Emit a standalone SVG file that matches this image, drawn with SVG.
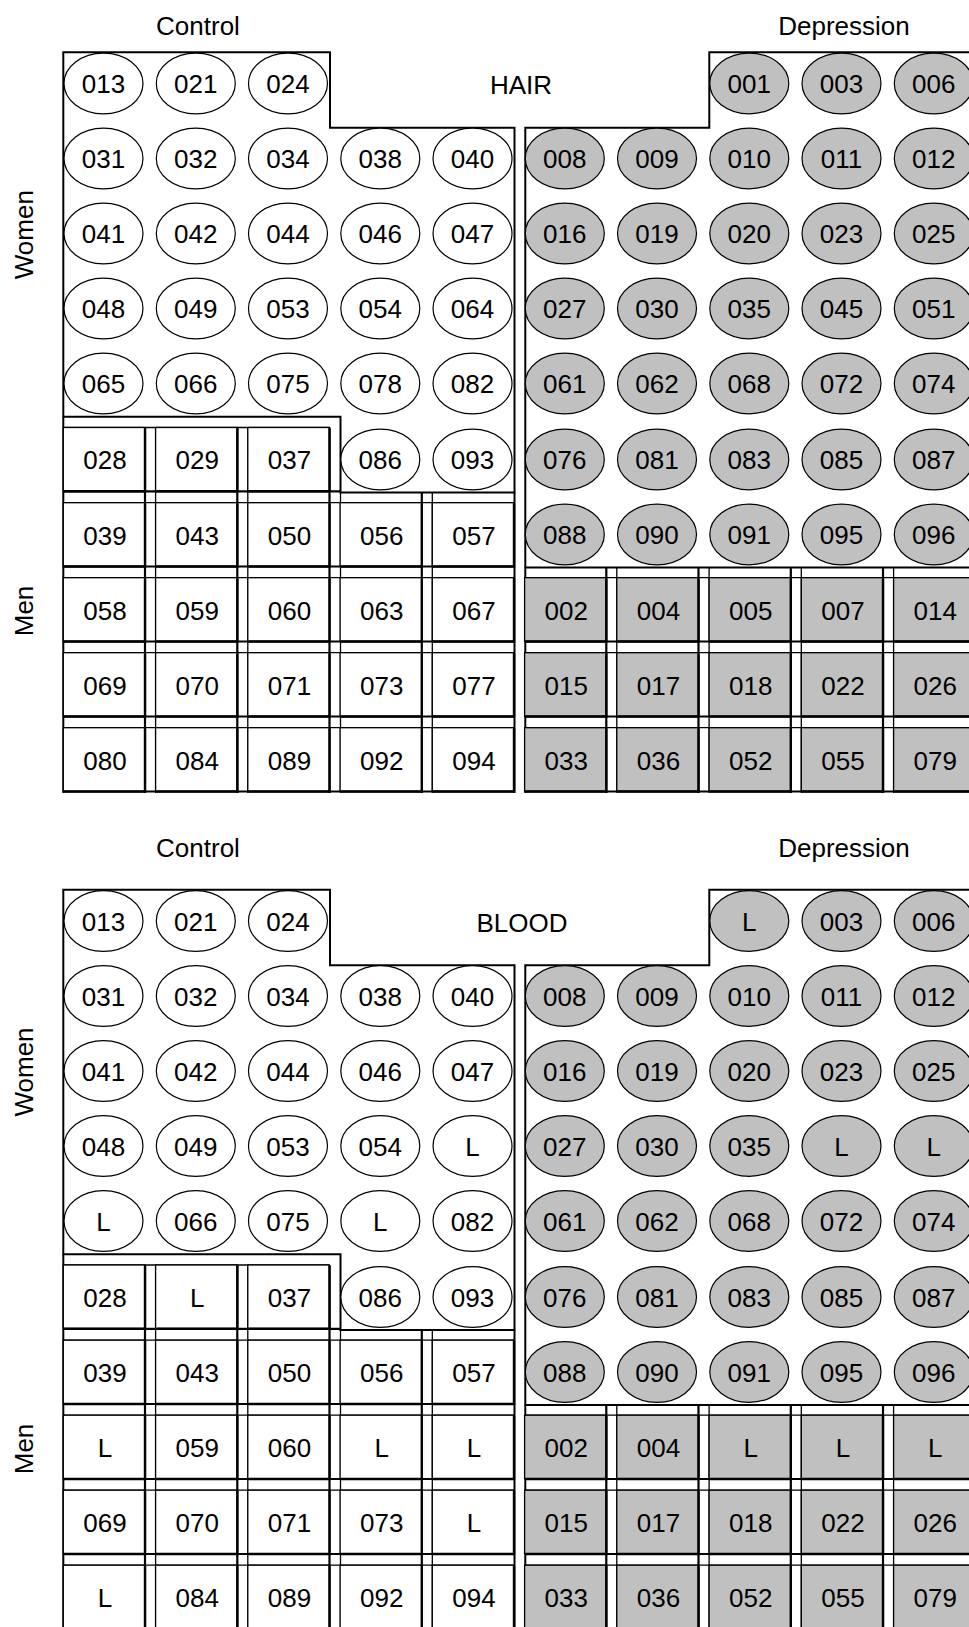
<svg xmlns="http://www.w3.org/2000/svg" width="969" height="1627" viewBox="0 0 969 1627">
<style>
text{font-family:"Liberation Sans",Arial,Helvetica,sans-serif;font-size:26px;text-anchor:middle;fill:#000}
.bd{fill:none;stroke:#000;stroke-width:2}
.lt{fill:none;stroke:#000;stroke-width:1.3}
.lk{fill:none;stroke:#000;stroke-width:2.2}
</style>
<defs>
<ellipse id="ovW" rx="39.5" ry="30.3" fill="#fff" stroke="#000" stroke-width="1.2"/>
<ellipse id="ovG" rx="39.5" ry="30.3" fill="#c0c0c0" stroke="#000" stroke-width="1.2"/>
<g id="bxW"><rect x="-40.2" y="-32.3" width="81.5" height="63.5" fill="#fff" stroke="#000" stroke-width="1.3"/><path d="M-39.5,31.5H41.5V-31.5" fill="none" stroke="#000" stroke-width="2.4"/></g>
<g id="bxG"><rect x="-40.2" y="-32.3" width="81.5" height="63.5" fill="#c0c0c0" stroke="#000" stroke-width="1.3"/><path d="M-39.5,31.5H41.5V-31.5" fill="none" stroke="#000" stroke-width="2.4"/></g>
<g id="frame">
<path class="bd" d="M63.3,52.3H330V127.7H514.5V492.5H340.5V416.8H63.3Z"/>
<path class="bd" d="M63.3,416.8V793"/>
<path class="bd" d="M514.5,492.5V793"/>
<path class="bd" d="M975,52.3H709.3V127.7H525.3V567.5H975"/>
<path class="bd" d="M525.3,567.5V793"/>
<path class="lt" d="M155.6,427.5V793M247.8,427.5V793M340.5,492.5V793M432.3,492.5V793M63.3,427.5H329.5M63.3,502.7H514M63.3,577.7H514M63.3,652.7H514M63.3,727.7H514M616.8,567.5V793M709.1,567.5V793M801.3,567.5V793M893.6,567.5V793M525.3,577.7H969M525.3,652.7H969M525.3,727.7H969"/>
<path class="lk" d="M145,427.5V793M237.3,427.5V793M329.5,427.5V793M421.8,492.5V793M63.3,491.3H340.5M63.3,566.5H514M63.3,641.5H514M63.3,716.5H514M63.3,791.5H514M606.3,567.5V793M698.5,567.5V793M790.8,567.5V793M883,567.5V793M525.3,641.5H969M525.3,716.5H969M525.3,791.5H969"/>
</g>
</defs>
<rect width="969" height="1627" fill="#fff"/>

<g id="hair">
<text x="198" y="35">Control</text>
<text x="844" y="35">Depression</text>
<text x="521" y="94">HAIR</text>
<text transform="translate(32.5,234.7) rotate(-90)">Women</text>
<text transform="translate(32.5,611) rotate(-90)">Men</text>

<g id="hair-borders"><use href="#frame"/></g>

<g id="hair-nodes">
<g id="h013" transform="translate(103.5,83.5)"><use href="#ovW"/><text y="9.5">013</text></g>
<g id="h021" transform="translate(195.8,83.5)"><use href="#ovW"/><text y="9.5">021</text></g>
<g id="h024" transform="translate(288,83.5)"><use href="#ovW"/><text y="9.5">024</text></g>
<g id="h031" transform="translate(103.5,158.5)"><use href="#ovW"/><text y="9.5">031</text></g>
<g id="h032" transform="translate(195.8,158.5)"><use href="#ovW"/><text y="9.5">032</text></g>
<g id="h034" transform="translate(288,158.5)"><use href="#ovW"/><text y="9.5">034</text></g>
<g id="h038" transform="translate(380.3,158.5)"><use href="#ovW"/><text y="9.5">038</text></g>
<g id="h040" transform="translate(472.5,158.5)"><use href="#ovW"/><text y="9.5">040</text></g>
<g id="h041" transform="translate(103.5,233.5)"><use href="#ovW"/><text y="9.5">041</text></g>
<g id="h042" transform="translate(195.8,233.5)"><use href="#ovW"/><text y="9.5">042</text></g>
<g id="h044" transform="translate(288,233.5)"><use href="#ovW"/><text y="9.5">044</text></g>
<g id="h046" transform="translate(380.3,233.5)"><use href="#ovW"/><text y="9.5">046</text></g>
<g id="h047" transform="translate(472.5,233.5)"><use href="#ovW"/><text y="9.5">047</text></g>
<g id="h048" transform="translate(103.5,308.5)"><use href="#ovW"/><text y="9.5">048</text></g>
<g id="h049" transform="translate(195.8,308.5)"><use href="#ovW"/><text y="9.5">049</text></g>
<g id="h053" transform="translate(288,308.5)"><use href="#ovW"/><text y="9.5">053</text></g>
<g id="h054" transform="translate(380.3,308.5)"><use href="#ovW"/><text y="9.5">054</text></g>
<g id="h064" transform="translate(472.5,308.5)"><use href="#ovW"/><text y="9.5">064</text></g>
<g id="h065" transform="translate(103.5,383.5)"><use href="#ovW"/><text y="9.5">065</text></g>
<g id="h066" transform="translate(195.8,383.5)"><use href="#ovW"/><text y="9.5">066</text></g>
<g id="h075" transform="translate(288,383.5)"><use href="#ovW"/><text y="9.5">075</text></g>
<g id="h078" transform="translate(380.3,383.5)"><use href="#ovW"/><text y="9.5">078</text></g>
<g id="h082" transform="translate(472.5,383.5)"><use href="#ovW"/><text y="9.5">082</text></g>
<g id="h086" transform="translate(380.3,459.5)"><use href="#ovW"/><text y="9.5">086</text></g>
<g id="h093" transform="translate(472.5,459.5)"><use href="#ovW"/><text y="9.5">093</text></g>

<g id="h028" transform="translate(103.5,459.8)"><use href="#bxW"/><text x="1.5" y="9.5">028</text></g>
<g id="h029" transform="translate(195.8,459.8)"><use href="#bxW"/><text x="1.5" y="9.5">029</text></g>
<g id="h037" transform="translate(288,459.8)"><use href="#bxW"/><text x="1.5" y="9.5">037</text></g>
<g id="h039" transform="translate(103.5,535)"><use href="#bxW"/><text x="1.5" y="9.5">039</text></g>
<g id="h043" transform="translate(195.8,535)"><use href="#bxW"/><text x="1.5" y="9.5">043</text></g>
<g id="h050" transform="translate(288,535)"><use href="#bxW"/><text x="1.5" y="9.5">050</text></g>
<g id="h056" transform="translate(380.3,535)"><use href="#bxW"/><text x="1.5" y="9.5">056</text></g>
<g id="h057" transform="translate(472.5,535)"><use href="#bxW"/><text x="1.5" y="9.5">057</text></g>
<g id="h058" transform="translate(103.5,610)"><use href="#bxW"/><text x="1.5" y="9.5">058</text></g>
<g id="h059" transform="translate(195.8,610)"><use href="#bxW"/><text x="1.5" y="9.5">059</text></g>
<g id="h060" transform="translate(288,610)"><use href="#bxW"/><text x="1.5" y="9.5">060</text></g>
<g id="h063" transform="translate(380.3,610)"><use href="#bxW"/><text x="1.5" y="9.5">063</text></g>
<g id="h067" transform="translate(472.5,610)"><use href="#bxW"/><text x="1.5" y="9.5">067</text></g>
<g id="h069" transform="translate(103.5,685)"><use href="#bxW"/><text x="1.5" y="9.5">069</text></g>
<g id="h070" transform="translate(195.8,685)"><use href="#bxW"/><text x="1.5" y="9.5">070</text></g>
<g id="h071" transform="translate(288,685)"><use href="#bxW"/><text x="1.5" y="9.5">071</text></g>
<g id="h073" transform="translate(380.3,685)"><use href="#bxW"/><text x="1.5" y="9.5">073</text></g>
<g id="h077" transform="translate(472.5,685)"><use href="#bxW"/><text x="1.5" y="9.5">077</text></g>
<g id="h080" transform="translate(103.5,760)"><use href="#bxW"/><text x="1.5" y="9.5">080</text></g>
<g id="h084" transform="translate(195.8,760)"><use href="#bxW"/><text x="1.5" y="9.5">084</text></g>
<g id="h089" transform="translate(288,760)"><use href="#bxW"/><text x="1.5" y="9.5">089</text></g>
<g id="h092" transform="translate(380.3,760)"><use href="#bxW"/><text x="1.5" y="9.5">092</text></g>
<g id="h094" transform="translate(472.5,760)"><use href="#bxW"/><text x="1.5" y="9.5">094</text></g>

<g id="h001" transform="translate(749.3,83.5)"><use href="#ovG"/><text y="9.5">001</text></g>
<g id="h003" transform="translate(841.5,83.5)"><use href="#ovG"/><text y="9.5">003</text></g>
<g id="h006" transform="translate(933.8,83.5)"><use href="#ovG"/><text y="9.5">006</text></g>
<g id="h008" transform="translate(564.8,158.5)"><use href="#ovG"/><text y="9.5">008</text></g>
<g id="h009" transform="translate(657,158.5)"><use href="#ovG"/><text y="9.5">009</text></g>
<g id="h010" transform="translate(749.3,158.5)"><use href="#ovG"/><text y="9.5">010</text></g>
<g id="h011" transform="translate(841.5,158.5)"><use href="#ovG"/><text y="9.5">011</text></g>
<g id="h012" transform="translate(933.8,158.5)"><use href="#ovG"/><text y="9.5">012</text></g>
<g id="h016" transform="translate(564.8,233.5)"><use href="#ovG"/><text y="9.5">016</text></g>
<g id="h019" transform="translate(657,233.5)"><use href="#ovG"/><text y="9.5">019</text></g>
<g id="h020" transform="translate(749.3,233.5)"><use href="#ovG"/><text y="9.5">020</text></g>
<g id="h023" transform="translate(841.5,233.5)"><use href="#ovG"/><text y="9.5">023</text></g>
<g id="h025" transform="translate(933.8,233.5)"><use href="#ovG"/><text y="9.5">025</text></g>
<g id="h027" transform="translate(564.8,308.5)"><use href="#ovG"/><text y="9.5">027</text></g>
<g id="h030" transform="translate(657,308.5)"><use href="#ovG"/><text y="9.5">030</text></g>
<g id="h035" transform="translate(749.3,308.5)"><use href="#ovG"/><text y="9.5">035</text></g>
<g id="h045" transform="translate(841.5,308.5)"><use href="#ovG"/><text y="9.5">045</text></g>
<g id="h051" transform="translate(933.8,308.5)"><use href="#ovG"/><text y="9.5">051</text></g>
<g id="h061" transform="translate(564.8,383.5)"><use href="#ovG"/><text y="9.5">061</text></g>
<g id="h062" transform="translate(657,383.5)"><use href="#ovG"/><text y="9.5">062</text></g>
<g id="h068" transform="translate(749.3,383.5)"><use href="#ovG"/><text y="9.5">068</text></g>
<g id="h072" transform="translate(841.5,383.5)"><use href="#ovG"/><text y="9.5">072</text></g>
<g id="h074" transform="translate(933.8,383.5)"><use href="#ovG"/><text y="9.5">074</text></g>
<g id="h076" transform="translate(564.8,459.5)"><use href="#ovG"/><text y="9.5">076</text></g>
<g id="h081" transform="translate(657,459.5)"><use href="#ovG"/><text y="9.5">081</text></g>
<g id="h083" transform="translate(749.3,459.5)"><use href="#ovG"/><text y="9.5">083</text></g>
<g id="h085" transform="translate(841.5,459.5)"><use href="#ovG"/><text y="9.5">085</text></g>
<g id="h087" transform="translate(933.8,459.5)"><use href="#ovG"/><text y="9.5">087</text></g>
<g id="h088" transform="translate(564.8,534.5)"><use href="#ovG"/><text y="9.5">088</text></g>
<g id="h090" transform="translate(657,534.5)"><use href="#ovG"/><text y="9.5">090</text></g>
<g id="h091" transform="translate(749.3,534.5)"><use href="#ovG"/><text y="9.5">091</text></g>
<g id="h095" transform="translate(841.5,534.5)"><use href="#ovG"/><text y="9.5">095</text></g>
<g id="h096" transform="translate(933.8,534.5)"><use href="#ovG"/><text y="9.5">096</text></g>

<g id="h002" transform="translate(564.8,610)"><use href="#bxG"/><text x="1.5" y="9.5">002</text></g>
<g id="h004" transform="translate(657,610)"><use href="#bxG"/><text x="1.5" y="9.5">004</text></g>
<g id="h005" transform="translate(749.3,610)"><use href="#bxG"/><text x="1.5" y="9.5">005</text></g>
<g id="h007" transform="translate(841.5,610)"><use href="#bxG"/><text x="1.5" y="9.5">007</text></g>
<g id="h014" transform="translate(933.8,610)"><use href="#bxG"/><text x="1.5" y="9.5">014</text></g>
<g id="h015" transform="translate(564.8,685)"><use href="#bxG"/><text x="1.5" y="9.5">015</text></g>
<g id="h017" transform="translate(657,685)"><use href="#bxG"/><text x="1.5" y="9.5">017</text></g>
<g id="h018" transform="translate(749.3,685)"><use href="#bxG"/><text x="1.5" y="9.5">018</text></g>
<g id="h022" transform="translate(841.5,685)"><use href="#bxG"/><text x="1.5" y="9.5">022</text></g>
<g id="h026" transform="translate(933.8,685)"><use href="#bxG"/><text x="1.5" y="9.5">026</text></g>
<g id="h033" transform="translate(564.8,760)"><use href="#bxG"/><text x="1.5" y="9.5">033</text></g>
<g id="h036" transform="translate(657,760)"><use href="#bxG"/><text x="1.5" y="9.5">036</text></g>
<g id="h052" transform="translate(749.3,760)"><use href="#bxG"/><text x="1.5" y="9.5">052</text></g>
<g id="h055" transform="translate(841.5,760)"><use href="#bxG"/><text x="1.5" y="9.5">055</text></g>
<g id="h079" transform="translate(933.8,760)"><use href="#bxG"/><text x="1.5" y="9.5">079</text></g>
</g>
</g>

<g id="blood">
<text x="198" y="856.5">Control</text>
<text x="844" y="856.5">Depression</text>
<text transform="translate(32.5,1072) rotate(-90)">Women</text>
<text transform="translate(32.5,1449) rotate(-90)">Men</text>
<g transform="translate(0,837.5)">
<text x="522" y="94">BLOOD</text>
<g id="blood-borders"><use href="#frame"/></g>
<g id="blood-nodes">
<g id="b013" transform="translate(103.5,83.5)"><use href="#ovW"/><text y="9.5">013</text></g>
<g id="b021" transform="translate(195.8,83.5)"><use href="#ovW"/><text y="9.5">021</text></g>
<g id="b024" transform="translate(288,83.5)"><use href="#ovW"/><text y="9.5">024</text></g>
<g id="b031" transform="translate(103.5,158.5)"><use href="#ovW"/><text y="9.5">031</text></g>
<g id="b032" transform="translate(195.8,158.5)"><use href="#ovW"/><text y="9.5">032</text></g>
<g id="b034" transform="translate(288,158.5)"><use href="#ovW"/><text y="9.5">034</text></g>
<g id="b038" transform="translate(380.3,158.5)"><use href="#ovW"/><text y="9.5">038</text></g>
<g id="b040" transform="translate(472.5,158.5)"><use href="#ovW"/><text y="9.5">040</text></g>
<g id="b041" transform="translate(103.5,233.5)"><use href="#ovW"/><text y="9.5">041</text></g>
<g id="b042" transform="translate(195.8,233.5)"><use href="#ovW"/><text y="9.5">042</text></g>
<g id="b044" transform="translate(288,233.5)"><use href="#ovW"/><text y="9.5">044</text></g>
<g id="b046" transform="translate(380.3,233.5)"><use href="#ovW"/><text y="9.5">046</text></g>
<g id="b047" transform="translate(472.5,233.5)"><use href="#ovW"/><text y="9.5">047</text></g>
<g id="b048" transform="translate(103.5,308.5)"><use href="#ovW"/><text y="9.5">048</text></g>
<g id="b049" transform="translate(195.8,308.5)"><use href="#ovW"/><text y="9.5">049</text></g>
<g id="b053" transform="translate(288,308.5)"><use href="#ovW"/><text y="9.5">053</text></g>
<g id="b054" transform="translate(380.3,308.5)"><use href="#ovW"/><text y="9.5">054</text></g>
<g id="b-r4c5" transform="translate(472.5,308.5)"><use href="#ovW"/><text y="9.5">L</text></g>
<g id="b-r5c1" transform="translate(103.5,383.5)"><use href="#ovW"/><text y="9.5">L</text></g>
<g id="b066" transform="translate(195.8,383.5)"><use href="#ovW"/><text y="9.5">066</text></g>
<g id="b075" transform="translate(288,383.5)"><use href="#ovW"/><text y="9.5">075</text></g>
<g id="b-r5c4" transform="translate(380.3,383.5)"><use href="#ovW"/><text y="9.5">L</text></g>
<g id="b082" transform="translate(472.5,383.5)"><use href="#ovW"/><text y="9.5">082</text></g>
<g id="b086" transform="translate(380.3,459.5)"><use href="#ovW"/><text y="9.5">086</text></g>
<g id="b093" transform="translate(472.5,459.5)"><use href="#ovW"/><text y="9.5">093</text></g>

<g id="b028" transform="translate(103.5,459.8)"><use href="#bxW"/><text x="1.5" y="9.5">028</text></g>
<g id="b-r6c2" transform="translate(195.8,459.8)"><use href="#bxW"/><text x="1.5" y="9.5">L</text></g>
<g id="b037" transform="translate(288,459.8)"><use href="#bxW"/><text x="1.5" y="9.5">037</text></g>
<g id="b039" transform="translate(103.5,535)"><use href="#bxW"/><text x="1.5" y="9.5">039</text></g>
<g id="b043" transform="translate(195.8,535)"><use href="#bxW"/><text x="1.5" y="9.5">043</text></g>
<g id="b050" transform="translate(288,535)"><use href="#bxW"/><text x="1.5" y="9.5">050</text></g>
<g id="b056" transform="translate(380.3,535)"><use href="#bxW"/><text x="1.5" y="9.5">056</text></g>
<g id="b057" transform="translate(472.5,535)"><use href="#bxW"/><text x="1.5" y="9.5">057</text></g>
<g id="b-r8c1" transform="translate(103.5,610)"><use href="#bxW"/><text x="1.5" y="9.5">L</text></g>
<g id="b059" transform="translate(195.8,610)"><use href="#bxW"/><text x="1.5" y="9.5">059</text></g>
<g id="b060" transform="translate(288,610)"><use href="#bxW"/><text x="1.5" y="9.5">060</text></g>
<g id="b-r8c4" transform="translate(380.3,610)"><use href="#bxW"/><text x="1.5" y="9.5">L</text></g>
<g id="b-r8c5" transform="translate(472.5,610)"><use href="#bxW"/><text x="1.5" y="9.5">L</text></g>
<g id="b069" transform="translate(103.5,685)"><use href="#bxW"/><text x="1.5" y="9.5">069</text></g>
<g id="b070" transform="translate(195.8,685)"><use href="#bxW"/><text x="1.5" y="9.5">070</text></g>
<g id="b071" transform="translate(288,685)"><use href="#bxW"/><text x="1.5" y="9.5">071</text></g>
<g id="b073" transform="translate(380.3,685)"><use href="#bxW"/><text x="1.5" y="9.5">073</text></g>
<g id="b-r9c5" transform="translate(472.5,685)"><use href="#bxW"/><text x="1.5" y="9.5">L</text></g>
<g id="b-r10c1" transform="translate(103.5,760)"><use href="#bxW"/><text x="1.5" y="9.5">L</text></g>
<g id="b084" transform="translate(195.8,760)"><use href="#bxW"/><text x="1.5" y="9.5">084</text></g>
<g id="b089" transform="translate(288,760)"><use href="#bxW"/><text x="1.5" y="9.5">089</text></g>
<g id="b092" transform="translate(380.3,760)"><use href="#bxW"/><text x="1.5" y="9.5">092</text></g>
<g id="b094" transform="translate(472.5,760)"><use href="#bxW"/><text x="1.5" y="9.5">094</text></g>

<g id="b-r1c8" transform="translate(749.3,83.5)"><use href="#ovG"/><text y="9.5">L</text></g>
<g id="b003" transform="translate(841.5,83.5)"><use href="#ovG"/><text y="9.5">003</text></g>
<g id="b006" transform="translate(933.8,83.5)"><use href="#ovG"/><text y="9.5">006</text></g>
<g id="b008" transform="translate(564.8,158.5)"><use href="#ovG"/><text y="9.5">008</text></g>
<g id="b009" transform="translate(657,158.5)"><use href="#ovG"/><text y="9.5">009</text></g>
<g id="b010" transform="translate(749.3,158.5)"><use href="#ovG"/><text y="9.5">010</text></g>
<g id="b011" transform="translate(841.5,158.5)"><use href="#ovG"/><text y="9.5">011</text></g>
<g id="b012" transform="translate(933.8,158.5)"><use href="#ovG"/><text y="9.5">012</text></g>
<g id="b016" transform="translate(564.8,233.5)"><use href="#ovG"/><text y="9.5">016</text></g>
<g id="b019" transform="translate(657,233.5)"><use href="#ovG"/><text y="9.5">019</text></g>
<g id="b020" transform="translate(749.3,233.5)"><use href="#ovG"/><text y="9.5">020</text></g>
<g id="b023" transform="translate(841.5,233.5)"><use href="#ovG"/><text y="9.5">023</text></g>
<g id="b025" transform="translate(933.8,233.5)"><use href="#ovG"/><text y="9.5">025</text></g>
<g id="b027" transform="translate(564.8,308.5)"><use href="#ovG"/><text y="9.5">027</text></g>
<g id="b030" transform="translate(657,308.5)"><use href="#ovG"/><text y="9.5">030</text></g>
<g id="b035" transform="translate(749.3,308.5)"><use href="#ovG"/><text y="9.5">035</text></g>
<g id="b-r4c9" transform="translate(841.5,308.5)"><use href="#ovG"/><text y="9.5">L</text></g>
<g id="b-r4c10" transform="translate(933.8,308.5)"><use href="#ovG"/><text y="9.5">L</text></g>
<g id="b061" transform="translate(564.8,383.5)"><use href="#ovG"/><text y="9.5">061</text></g>
<g id="b062" transform="translate(657,383.5)"><use href="#ovG"/><text y="9.5">062</text></g>
<g id="b068" transform="translate(749.3,383.5)"><use href="#ovG"/><text y="9.5">068</text></g>
<g id="b072" transform="translate(841.5,383.5)"><use href="#ovG"/><text y="9.5">072</text></g>
<g id="b074" transform="translate(933.8,383.5)"><use href="#ovG"/><text y="9.5">074</text></g>
<g id="b076" transform="translate(564.8,459.5)"><use href="#ovG"/><text y="9.5">076</text></g>
<g id="b081" transform="translate(657,459.5)"><use href="#ovG"/><text y="9.5">081</text></g>
<g id="b083" transform="translate(749.3,459.5)"><use href="#ovG"/><text y="9.5">083</text></g>
<g id="b085" transform="translate(841.5,459.5)"><use href="#ovG"/><text y="9.5">085</text></g>
<g id="b087" transform="translate(933.8,459.5)"><use href="#ovG"/><text y="9.5">087</text></g>
<g id="b088" transform="translate(564.8,534.5)"><use href="#ovG"/><text y="9.5">088</text></g>
<g id="b090" transform="translate(657,534.5)"><use href="#ovG"/><text y="9.5">090</text></g>
<g id="b091" transform="translate(749.3,534.5)"><use href="#ovG"/><text y="9.5">091</text></g>
<g id="b095" transform="translate(841.5,534.5)"><use href="#ovG"/><text y="9.5">095</text></g>
<g id="b096" transform="translate(933.8,534.5)"><use href="#ovG"/><text y="9.5">096</text></g>

<g id="b002" transform="translate(564.8,610)"><use href="#bxG"/><text x="1.5" y="9.5">002</text></g>
<g id="b004" transform="translate(657,610)"><use href="#bxG"/><text x="1.5" y="9.5">004</text></g>
<g id="b-r8c8" transform="translate(749.3,610)"><use href="#bxG"/><text x="1.5" y="9.5">L</text></g>
<g id="b-r8c9" transform="translate(841.5,610)"><use href="#bxG"/><text x="1.5" y="9.5">L</text></g>
<g id="b-r8c10" transform="translate(933.8,610)"><use href="#bxG"/><text x="1.5" y="9.5">L</text></g>
<g id="b015" transform="translate(564.8,685)"><use href="#bxG"/><text x="1.5" y="9.5">015</text></g>
<g id="b017" transform="translate(657,685)"><use href="#bxG"/><text x="1.5" y="9.5">017</text></g>
<g id="b018" transform="translate(749.3,685)"><use href="#bxG"/><text x="1.5" y="9.5">018</text></g>
<g id="b022" transform="translate(841.5,685)"><use href="#bxG"/><text x="1.5" y="9.5">022</text></g>
<g id="b026" transform="translate(933.8,685)"><use href="#bxG"/><text x="1.5" y="9.5">026</text></g>
<g id="b033" transform="translate(564.8,760)"><use href="#bxG"/><text x="1.5" y="9.5">033</text></g>
<g id="b036" transform="translate(657,760)"><use href="#bxG"/><text x="1.5" y="9.5">036</text></g>
<g id="b052" transform="translate(749.3,760)"><use href="#bxG"/><text x="1.5" y="9.5">052</text></g>
<g id="b055" transform="translate(841.5,760)"><use href="#bxG"/><text x="1.5" y="9.5">055</text></g>
<g id="b079" transform="translate(933.8,760)"><use href="#bxG"/><text x="1.5" y="9.5">079</text></g>
</g>
</g>
</g>
</svg>
